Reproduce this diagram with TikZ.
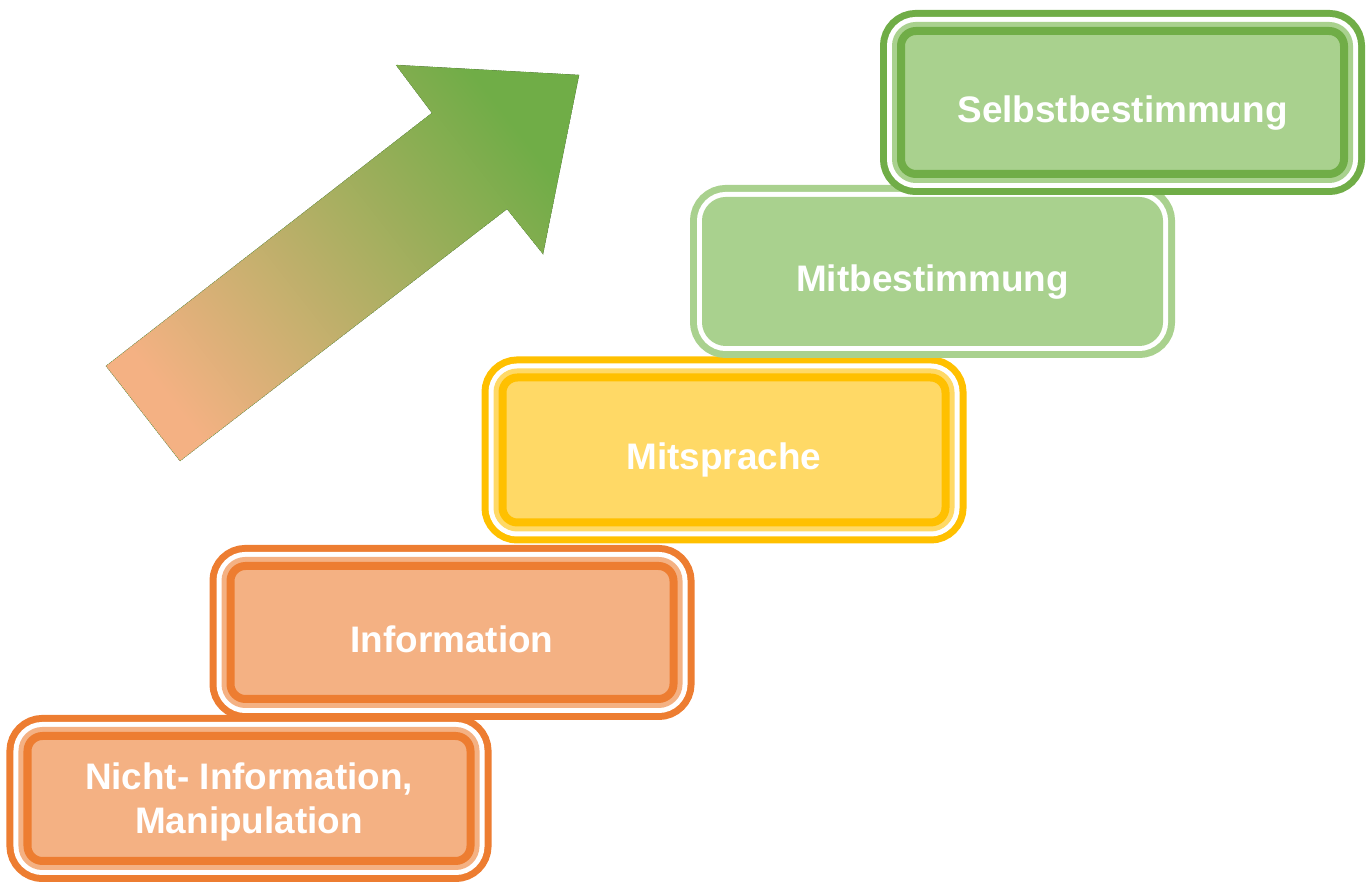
\documentclass[tikz,border=0pt]{standalone}
\usepackage{fontspec}
\setmainfont{Liberation Sans}
\usetikzlibrary{positioning}
\definecolor{orgdark}{HTML}{ED7D31}
\definecolor{orglight}{HTML}{F4B183}
\definecolor{yeldark}{HTML}{FFC000}
\definecolor{yellight}{HTML}{FFD966}
\definecolor{grndark}{HTML}{70AD47}
\definecolor{grnlight}{HTML}{A9D18E}

\begin{document}
\begin{tikzpicture}[font=\fontsize{21}{25}\selectfont\bfseries,
 stepbox/.style 2 args={rounded corners=.3cm,inner sep=0pt,align=center,text=white,
  text height=.8cm,text depth=0pt,minimum width=8.86cm,fill=#2,draw=#1,line width=.16cm,
  preaction={draw=#1,line width=.84cm},
  preaction={draw=white,line width=.56cm},
  preaction={draw=#2,line width=.36cm}}]
\useasboundingbox (0,0) rectangle (27.42,17.64);
% arrow
\filldraw[bottom color=orglight,top color=grndark,shading angle=-52,
 draw=grndark,line width=.4pt,densely dotted]
 (2.12,10.32) -- (3.60,8.42) -- (10.14,13.46) -- (10.86,12.56) -- (11.58,16.14)
 -- (7.92,16.34) -- (8.64,15.38) -- cycle;
% steps
\node[stepbox={orgdark}{orglight},minimum height=2.5cm,text height={},text depth=-5pt] (ni) at (4.98,1.67) {Nicht- Information,\\Manipulation};
\node[stepbox={orgdark}{orglight},minimum height=2.66cm] (in) at (9.04,4.99) {Information};
\node[stepbox={yeldark}{yellight},minimum height=2.9cm] (ms) at (14.48,8.64) {Mitsprache};
\node[stepbox={grnlight}{grnlight},minimum height=2.62cm] (mb) at (18.65,12.21) {Mitbestimmung};
\node[stepbox={grndark}{grnlight},minimum height=2.86cm] (sb) at (22.45,15.59) {Selbstbestimmung};
\end{tikzpicture}
\end{document}
